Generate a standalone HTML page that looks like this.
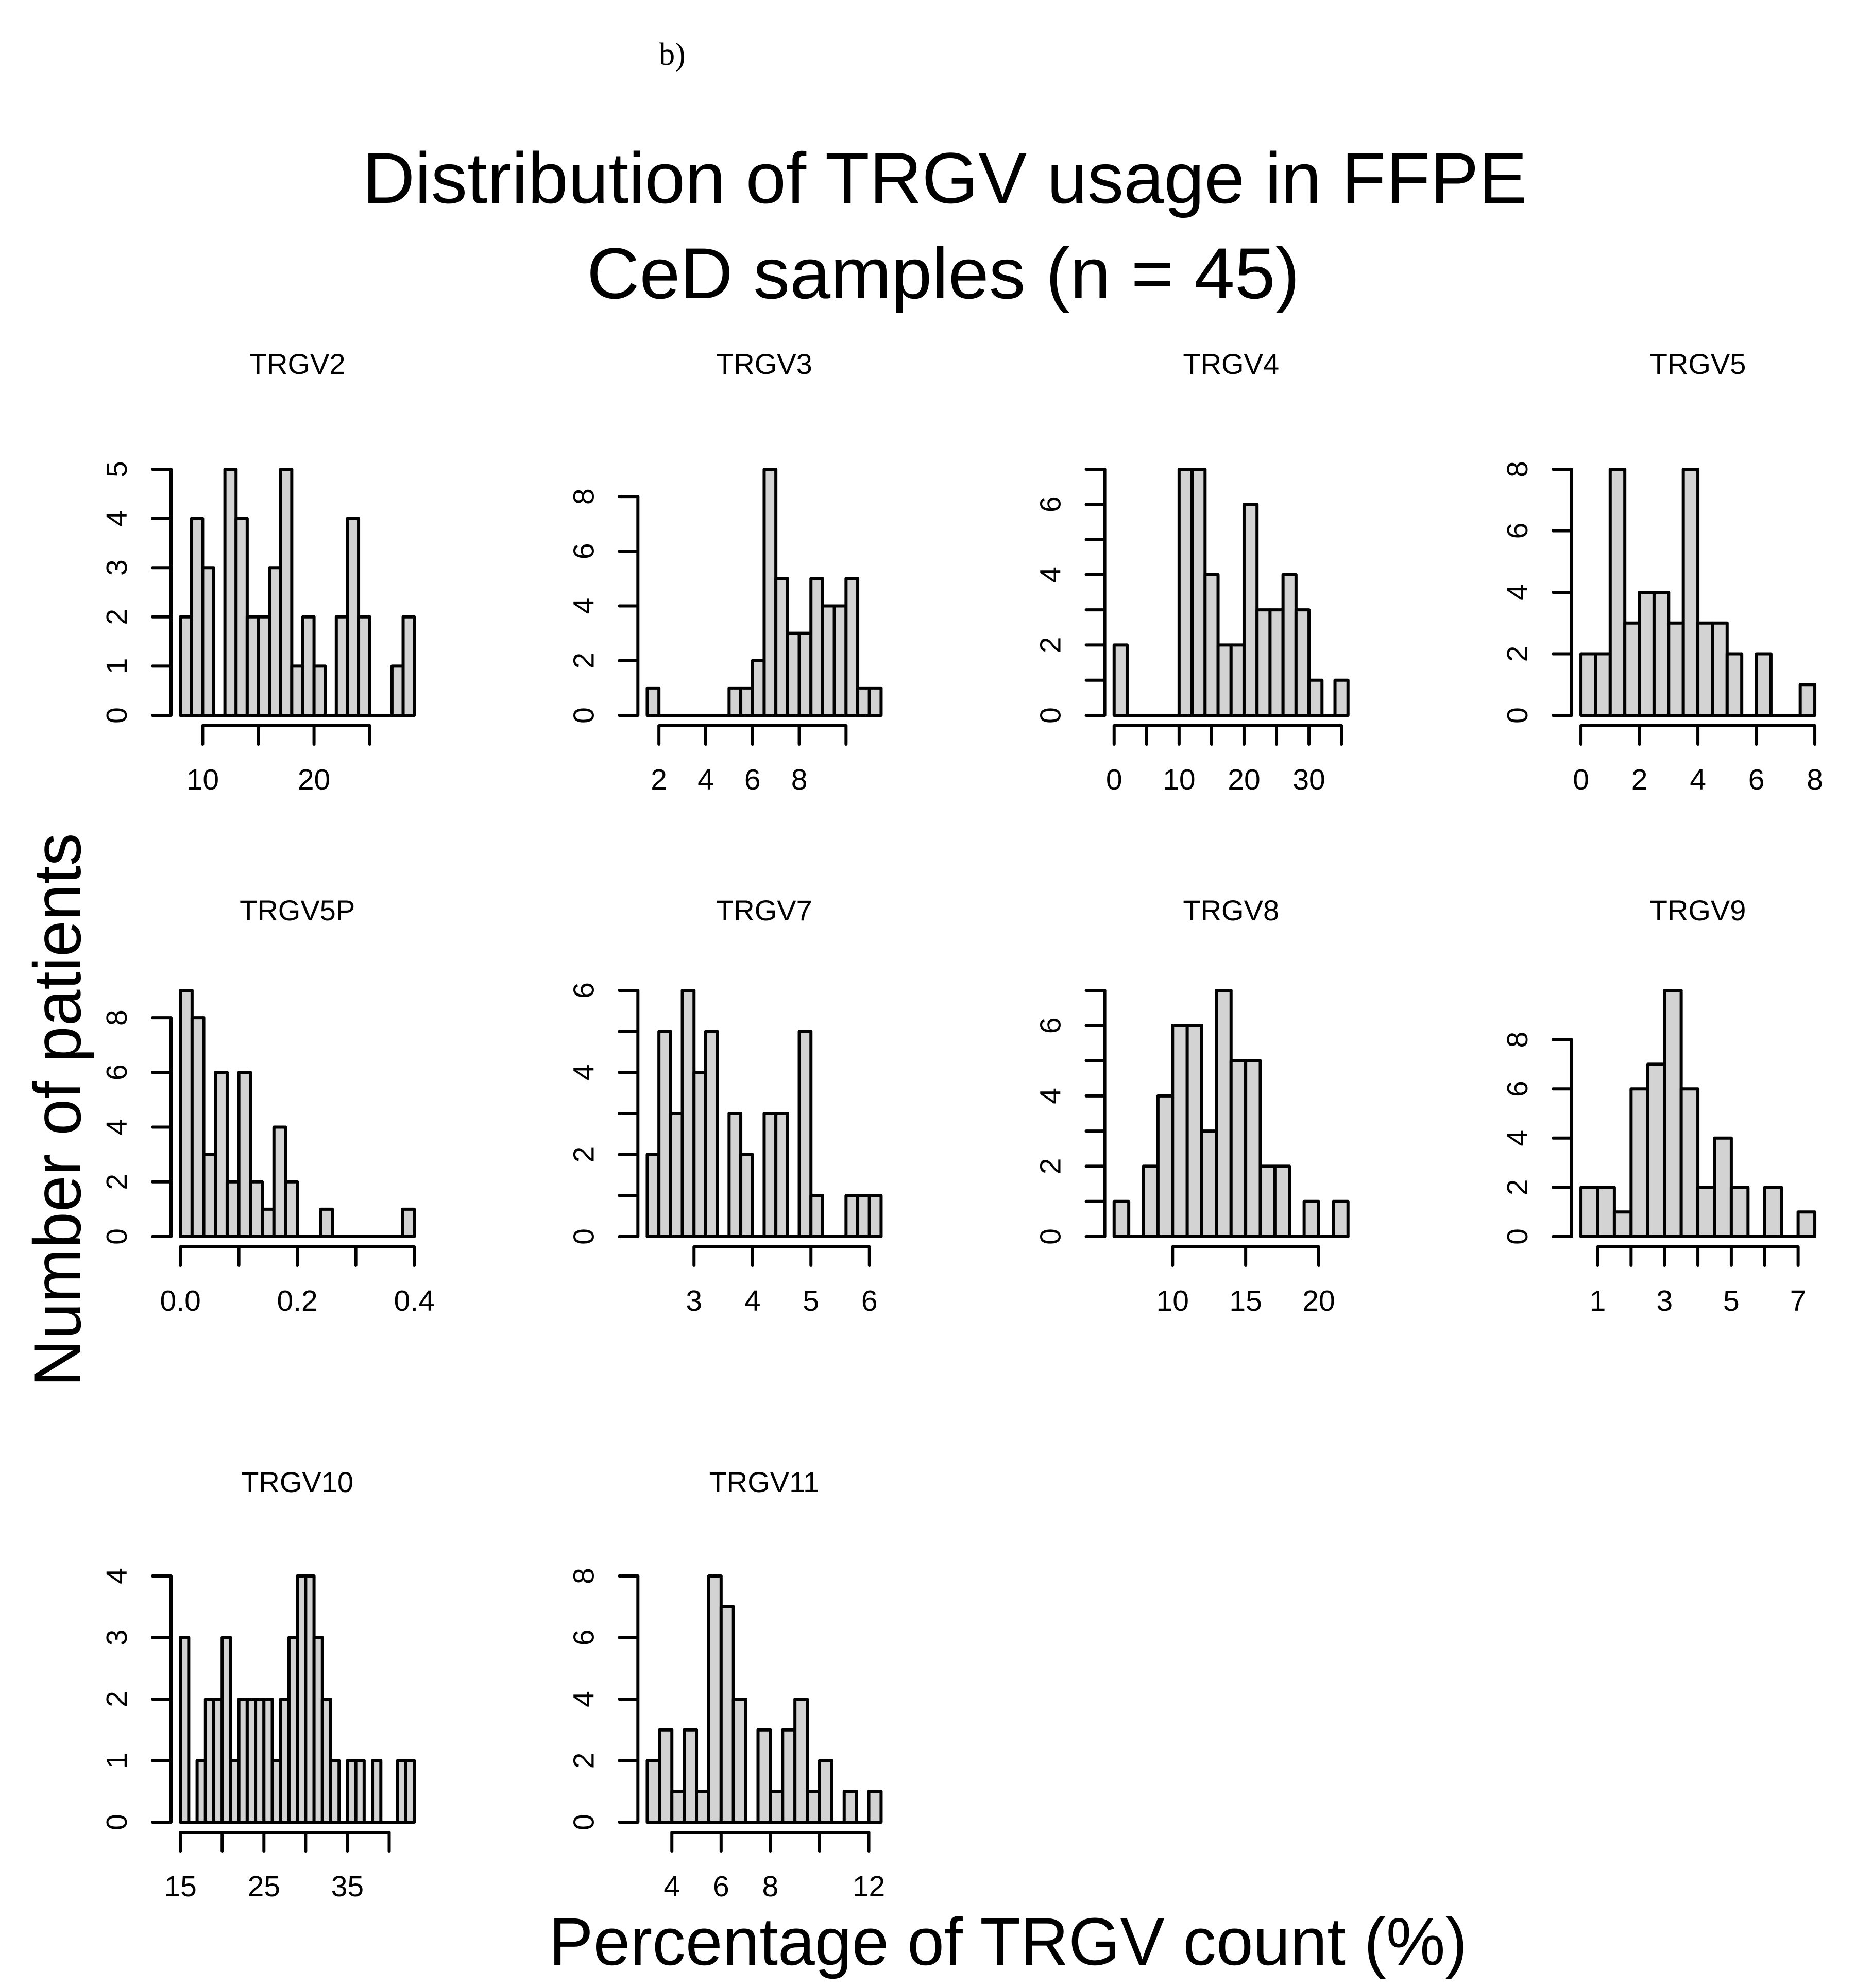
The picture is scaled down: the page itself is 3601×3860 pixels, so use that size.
<!DOCTYPE html>
<html><head><meta charset="utf-8">
<style>
html,body{margin:0;padding:0;background:#fff;}
svg{display:block;}
text{font-family:"Liberation Sans",Arial,sans-serif;fill:#000;}
</style></head>
<body>
<svg id="fig" width="3601" height="3860" viewBox="0 0 3601 3860" xmlns="http://www.w3.org/2000/svg">
<rect x="0" y="0" width="3601" height="3860" fill="#fff"/>
<text x="1305" y="126" text-anchor="middle" style="font-family:'Liberation Serif',serif" font-size="62">b)</text>
<text x="1834" y="394" text-anchor="middle" font-size="140" textLength="2261" lengthAdjust="spacingAndGlyphs">Distribution of TRGV usage in FFPE</text>
<text x="1831" y="579" text-anchor="middle" font-size="140" textLength="1384" lengthAdjust="spacingAndGlyphs">CeD samples (n = 45)</text>
<text transform="translate(156,2155) rotate(-90)" text-anchor="middle" font-size="130" textLength="1075" lengthAdjust="spacingAndGlyphs">Number of patients</text>
<text x="1957" y="3815" text-anchor="middle" font-size="131" textLength="1783" lengthAdjust="spacingAndGlyphs">Percentage of TRGV count (%)</text>
<g id="panels"></g>
</svg>
<script>
// ---- data ----
const panelNames = ["TRGV2","TRGV3","TRGV4","TRGV5","TRGV5P","TRGV7","TRGV8","TRGV9","TRGV10","TRGV11"];
const binStart = [8, 1.5, 0, 0, 0, 2.2, 6, 0.5, 15, 3];
const binWidth = [1, 0.5, 2, 0.5, 0.02, 0.2, 1, 0.5, 1, 0.5];
const countsTRGV2 = [2,4,3,0,5,4,2,2,3,5,1,2,1,0,2,4,2,0,0,1,2];
const countsTRGV3 = [1,0,0,0,0,0,0,1,1,2,9,5,3,3,5,4,4,5,1,1];
const countsTRGV4 = [2,0,0,0,0,7,7,4,2,2,6,3,3,4,3,1,0,1];
const countsTRGV5 = [2,2,8,3,4,4,3,8,3,3,2,0,2,0,0,1];
const countsTRGV5P = [9,8,3,6,2,6,2,1,4,2,0,0,1,0,0,0,0,0,0,1];
const countsTRGV7 = [2,5,3,6,4,5,0,3,2,0,3,3,0,5,1,0,0,1,1,1];
const countsTRGV8 = [1,0,2,4,6,6,3,7,5,5,2,2,0,1,0,1];
const countsTRGV9 = [2,2,1,6,7,10,6,2,4,2,0,2,0,1];
const countsTRGV10 = [3,0,1,2,2,3,1,2,2,2,2,1,2,3,4,4,3,2,1,0,1,1,0,1,0,0,1,1];
const countsTRGV11 = [2,3,1,3,1,8,7,4,0,3,1,3,4,1,2,0,1,0,1];
const allCounts = [countsTRGV2,countsTRGV3,countsTRGV4,countsTRGV5,countsTRGV5P,countsTRGV7,countsTRGV8,countsTRGV9,countsTRGV10,countsTRGV11];
const xTicks = [[10,15,20,25],[2,4,6,8,10],[0,5,10,15,20,25,30,35],[0,2,4,6,8],[0,0.1,0.2,0.3,0.4],[3,4,5,6],[10,15,20],[1,2,3,4,5,6,7],[15,20,25,30,35,40],[4,6,8,10,12]];
const xTickLabels = [["10","","20",""],["2","4","6","8",""],["0","","10","","20","","30",""],["0","2","4","6","8"],["0.0","","0.2","","0.4"],["3","4","5","6"],["10","15","20"],["1","","3","","5","","7"],["15","","25","","35",""],["4","6","8","","12"]];
const yTicks = [[0,1,2,3,4,5],[0,2,4,6,8],[0,1,2,3,4,5,6,7],[0,2,4,6,8],[0,2,4,6,8],[0,1,2,3,4,5,6],[0,1,2,3,4,5,6,7],[0,2,4,6,8],[0,1,2,3,4],[0,2,4,6,8]];
const yTickLabels = [["0","1","2","3","4","5"],["0","2","4","6","8"],["0","","2","","4","","6",""],["0","2","4","6","8"],["0","2","4","6","8"],["0","","2","","4","","6"],["0","","2","","4","","6",""],["0","2","4","6","8"],["0","1","2","3","4"],["0","2","4","6","8"]];

// ---- layout ----
const NS = "http://www.w3.org/2000/svg";
const colLeft = c => 332 + 906.3 * c;
const rowBase = [1389, 2401, 3538];
const rowTitle = [706, 1767, 2877];
const REGION_W = 490.3, BAR_H = 478, LW = 6;
const g = document.getElementById("panels");
function mk(tag, attrs, parent){ const e=document.createElementNS(NS,tag); for(const k in attrs) e.setAttribute(k,attrs[k]); (parent||g).appendChild(e); return e; }

panelNames.forEach((name, i) => {
  const c = i % 4, r = Math.floor(i / 4);
  const L = colLeft(c), B = rowBase[r];
  const counts = allCounts[i];
  const b0 = binStart[i], bw = binWidth[i], bn = b0 + bw * counts.length;
  const span = bn - b0;
  const xmin = b0 - 0.04 * span, xmax = bn + 0.04 * span;
  const xs = v => L + (v - xmin) / (xmax - xmin) * REGION_W;
  const maxC = Math.max(...counts);
  const ys = v => B - v / maxC * BAR_H;

  const pg = mk("g", {});
  
  

  const t = mk("text", {x: L + REGION_W/2, y: rowTitle[r] + 20, "text-anchor":"middle", "font-size":"56"}, pg);
  t.textContent = name;
  
  

  counts.forEach((v, k) => {
    const x0 = xs(b0 + k*bw), x1 = xs(b0 + (k+1)*bw), y = ys(v);
    const bar = mk("path", {d:`M${x0},${B}V${y}H${x1}V${B}Z`, fill:"#d3d3d3", stroke:"#000", "stroke-width":LW, "stroke-linejoin":"round", "stroke-linecap":"round"}, pg);
    
    
  });

  // x axis
  const xt = xTicks[i];
  const ax = mk("path", {d:`M${xs(xt[0])},${B+20}H${xs(xt[xt.length-1])}` + xt.map(v=>`M${xs(v)},${B+20}V${B+56}`).join(""), stroke:"#000", "stroke-width":LW, fill:"none", "stroke-linecap":"round"}, pg);
  
  
  xt.forEach((v, k) => {
    if (!xTickLabels[i][k]) return;
    const tl = mk("text", {x:xs(v), y:B+144, "text-anchor":"middle", "font-size":"57"}, pg);
    tl.textContent = xTickLabels[i][k];
    
    
  });

  // y axis
  const yt = yTicks[i];
  const ay = mk("path", {d:`M${L},${ys(yt[0])}V${ys(yt[yt.length-1])}` + yt.map(v=>`M${L},${ys(v)}H${L-36}`).join(""), stroke:"#000", "stroke-width":LW, fill:"none", "stroke-linecap":"round"}, pg);
  
  
  yt.forEach((v, k) => {
    if (!yTickLabels[i][k]) return;
    const tl = mk("text", {transform:`translate(${L-86},${ys(v)}) rotate(-90)`, "text-anchor":"middle", "font-size":"57"}, pg);
    tl.textContent = yTickLabels[i][k];
    
    
  });
});
</script>
</body></html>
